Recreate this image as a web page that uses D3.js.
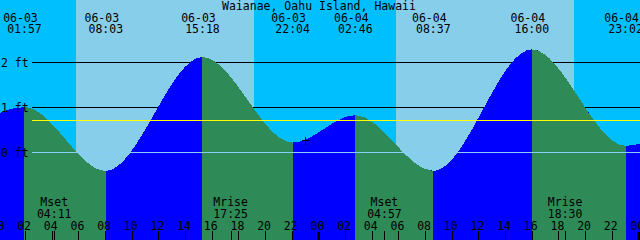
<!DOCTYPE html>
<html>
<head>
<meta charset="utf-8">
<script src="https://cdn.jsdelivr.net/npm/d3@7"></script>
<style>
  body { margin: 0; background: #fff; }
  svg { display: block; }
  text { font-family: "DejaVu Sans Mono", monospace; font-size: 11.5px; fill: #000; }
</style>
</head>
<body>
<svg id="chart" width="640" height="240"></svg>
<script>
// tide extremes (first and last are just off the chart, so the curve runs to the edges)
const tideDates   = ["06-02", "06-03", "06-03", "06-03", "06-03", "06-04", "06-04", "06-04", "06-04", "06-05"];
const tideTimes   = ["20:45", "01:57", "08:03", "15:18", "22:04", "02:46", "08:37", "16:00", "23:02", "03:40"];
const tideHeights = [0.25, 1.01, -0.41, 2.12, 0.22, 0.83, -0.41, 2.29, 0.15, 0.75];

// sun (day bands)
const sunriseTimes = ["06-03 05:50", "06-04 05:50"];
const sunsetTimes  = ["06-03 19:10", "06-04 19:10"];

// moon events
const moonNames = ["Mset", "Mrise", "Mset", "Mrise"];
const moonTimes = ["06-03 04:11", "06-03 17:25", "06-04 04:57", "06-04 18:30"];

// level lines
const footTicks = [2, 1, 0];
const meanLevel = 0.71;

// the little "+" mark
const markTime = "06-03 23:00";
const markLevel = 0.27;

const title = "Waianae, Oahu Island, Hawaii";
const chartStart = "06-03 00:07";
const chartEnd = "06-05 00:07";
const firstHour = "06-03 00:00";

const parse = d3.utcParse("%Y-%m-%d %H:%M");
const t = s => parse("2024-" + s);

const W = 640, H = 240;
const svg = d3.select("#chart");

let x = d3.scaleUtc().domain([t(chartStart), t(chartEnd)]).range([0, W]);
let y = d3.scaleLinear().domain([0, 2]).range([152.5, 62.5]);

let tide = tideDates.map((d, i) => ({
    date: d,
    time: tideTimes[i],
    when: t(d + " " + tideTimes[i]),
    h: tideHeights[i]
}));

// 1px horizontal rule from the label gutter to the right edge
function rule(level, color) {
    svg.append("rect")
        .attr("x", 32)
        .attr("y", Math.floor(y(level)))
        .attr("width", W - 32)
        .attr("height", 1)
        .attr("fill", color)
        .attr("shape-rendering", "crispEdges");
}

// night background, day bands
svg.append("rect").attr("width", W).attr("height", H).attr("fill", "#00bfff");

svg.selectAll(".day")
    .data(sunriseTimes)
    .join("rect")
    .attr("class", "day")
    .attr("x", d => Math.round(x(t(d))))
    .attr("width", (d, i) => Math.round(x(t(sunsetTimes[i]))) - Math.round(x(t(d))))
    .attr("y", 0)
    .attr("height", H)
    .attr("fill", "#87ceeb");

// 2 ft and 1 ft lines sit behind the water
footTicks.filter(d => d != 0).forEach(d => rule(d, "#000"));

let area = d3.area()
    .x(d => x(d.when))
    .y0(H)
    .y1(d => y(d.h))
    .curve(d3.curveMonotoneX);

// falling segments get green, rising stay blue
let falling = d3.pairs(tide).filter(p => p[1].h < p[0].h);

svg.append("clipPath")
    .attr("id", "fall-clip")
    .selectAll("rect")
    .data(falling)
    .join("rect")
    .attr("x", p => Math.round(x(p[0].when)))
    .attr("width", p => Math.round(x(p[1].when)) - Math.round(x(p[0].when)))
    .attr("y", 0)
    .attr("height", H);

svg.append("path")
    .datum(tide)
    .attr("d", area)
    .attr("fill", "#0000ff")
    .attr("shape-rendering", "crispEdges");

svg.append("path")
    .datum(tide)
    .attr("d", area)
    .attr("fill", "#2e8b57")
    .attr("clip-path", "url(#fall-clip)")
    .attr("shape-rendering", "crispEdges");

// 0 ft and mean level lines go over the water
rule(0, "#87cefa");
rule(meanLevel, "#ffff00");

// plus mark
let mx = Math.round(x(t(markTime))) + 0.5, my = Math.round(y(markLevel)) + 0.5;
svg.append("path")
    .attr("d", `M${mx - 4},${my}H${mx + 4}M${mx},${my - 4}V${my + 4}`)
    .attr("stroke", "black")
    .attr("shape-rendering", "crispEdges");

// foot labels
svg.selectAll(".ftlabel")
    .data(footTicks)
    .join("text")
    .attr("x", 1)
    .attr("y", d => y(d) + 4.3)
    .text(d => d + " ft");

// title
svg.append("text")
    .attr("x", 319)
    .attr("y", 9.5)
    .attr("text-anchor", "middle")
    .text(title);

// tide event labels
svg.selectAll(".tdate")
    .data(tide)
    .join("text")
    .attr("x", d => x(d.when) - 4)
    .attr("y", 21.5)
    .attr("text-anchor", "middle")
    .text(d => d.date);

svg.selectAll(".ttime")
    .data(tide)
    .join("text")
    .attr("x", d => x(d.when))
    .attr("y", 33)
    .attr("text-anchor", "middle")
    .text(d => d.time);

// moon labels
let moon = moonNames.map((n, i) => ({ name: n, when: t(moonTimes[i]), time: moonTimes[i].slice(6) }));

svg.selectAll(".mname")
    .data(moon)
    .join("text")
    .attr("x", d => x(d.when))
    .attr("y", 206)
    .attr("text-anchor", "middle")
    .text(d => d.name);

svg.selectAll(".mtime")
    .data(moon)
    .join("text")
    .attr("x", d => x(d.when))
    .attr("y", 217.5)
    .attr("text-anchor", "middle")
    .text(d => d.time);

// hour axis along the bottom (starts at the midnight just left of the edge)
let hours = d3.utcHour.every(2).range(t(firstHour), x.domain()[1]);
let fmt = d3.utcFormat("%H");
let isMidnight = d => d.getUTCHours() == 0 && d.getUTCMinutes() == 0;

svg.selectAll(".hlabel")
    .data(hours)
    .join("text")
    .attr("x", d => x(d) - 1)
    .attr("y", 230)
    .attr("text-anchor", "middle")
    .text(d => fmt(d));

svg.selectAll(".htick")
    .data(hours.concat(moon.map(m => m.when)))
    .join("line")
    .attr("x1", d => Math.round(x(d)) + 0.5)
    .attr("x2", d => Math.round(x(d)) + 0.5)
    .attr("y1", d => isMidnight(d) ? 232 : 231)
    .attr("y2", H)
    .attr("stroke", "black")
    .attr("stroke-width", d => isMidnight(d) ? 3 : 1)
    .attr("shape-rendering", "crispEdges");
</script>
</body>
</html>
